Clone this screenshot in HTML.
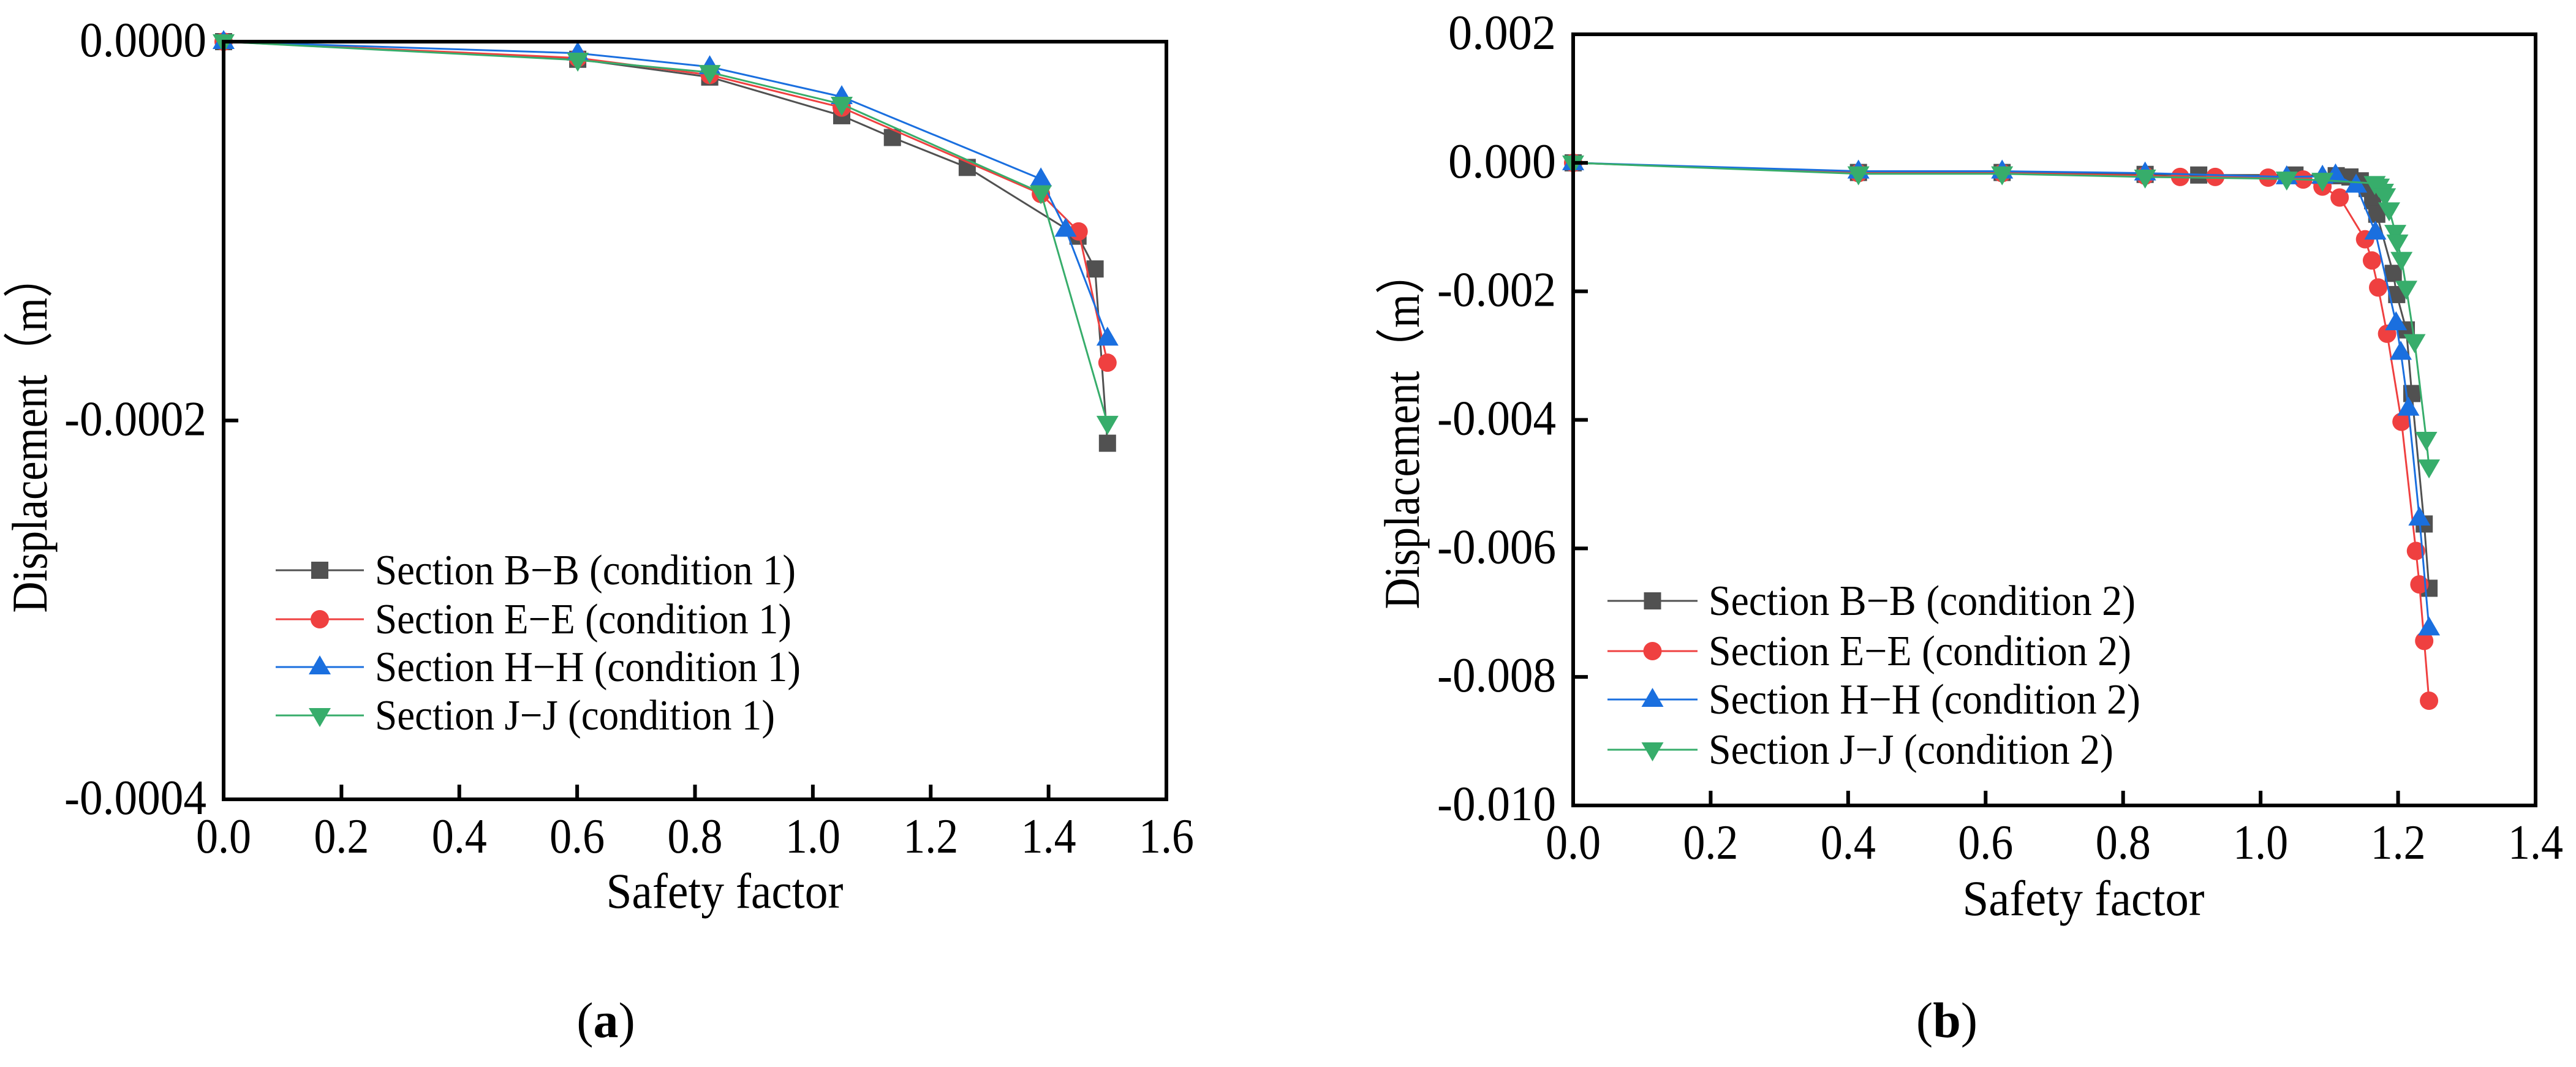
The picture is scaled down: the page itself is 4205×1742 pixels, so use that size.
<!DOCTYPE html>
<html><head><meta charset="utf-8"><style>
html,body{margin:0;padding:0;background:#fff;}
svg{display:block;}
text{font-family:"Liberation Serif","Times New Roman",serif;fill:#000;}
</style></head><body>
<svg id="fig" width="4205" height="1742" viewBox="0 0 4205 1742" xmlns="http://www.w3.org/2000/svg"></svg>
<script>
// ---- Panel (a) data ----
const aSeriesNames = ["Section B\u2212B (condition 1)","Section E\u2212E (condition 1)","Section H\u2212H (condition 1)","Section J\u2212J (condition 1)"];
const aBx = [0,0.601,0.825,1.049,1.135,1.262,1.45,1.479,1.5];
const aBy = [0,-0.0000093,-0.0000187,-0.0000391,-0.0000506,-0.0000664,-0.0001027,-0.00012,-0.000212];
const aEx = [0,0.601,0.825,1.049,1.387,1.451,1.5];
const aEy = [0,-0.0000086,-0.0000176,-0.0000348,-0.0000804,-0.0001002,-0.0001695];
const aHx = [0,0.601,0.825,1.049,1.387,1.429,1.5];
const aHy = [0,-0.0000061,-0.0000133,-0.0000291,-0.0000725,-0.0000991,-0.0001566];
const aJx = [0,0.601,0.825,1.049,1.387,1.5];
const aJy = [0,-0.0000097,-0.0000162,-0.000033,-0.0000797,-0.0002014];
const aXTicks = [0,0.2,0.4,0.6,0.8,1.0,1.2,1.4,1.6];
const aXTickLabels = ["0.0","0.2","0.4","0.6","0.8","1.0","1.2","1.4","1.6"];
const aYTicks = [0,-0.0002,-0.0004];
const aYTickLabels = ["0.0000","-0.0002","-0.0004"];
// ---- Panel (b) data ----
const bSeriesNames = ["Section B\u2212B (condition 2)","Section E\u2212E (condition 2)","Section H\u2212H (condition 2)","Section J\u2212J (condition 2)"];
const bBx = [0,0.415,0.624,0.832,0.91,1.05,1.11,1.13,1.145,1.155,1.163,1.169,1.193,1.198,1.212,1.220,1.238,1.245];
const bBy = [0,-0.00015,-0.00015,-0.00018,-0.00019,-0.00019,-0.0002,-0.00022,-0.00028,-0.0004,-0.00059,-0.0008,-0.00172,-0.00205,-0.0026,-0.00359,-0.00562,-0.00662];
const bEx = [0,0.415,0.624,0.832,0.883,0.934,1.011,1.062,1.09,1.115,1.152,1.162,1.171,1.184,1.205,1.226,1.231,1.238,1.245];
const bEy = [0,-0.00016,-0.00016,-0.0002,-0.00022,-0.00022,-0.00023,-0.00026,-0.00037,-0.00054,-0.00119,-0.00152,-0.00194,-0.00266,-0.00403,-0.00604,-0.00656,-0.00744,-0.00837];
const bHx = [0,0.415,0.624,0.832,1.038,1.09,1.109,1.139,1.167,1.197,1.204,1.215,1.231,1.245];
const bHy = [0,-0.00013,-0.00013,-0.00016,-0.00022,-0.00021,-0.00019,-0.00035,-0.00108,-0.00249,-0.00295,-0.00382,-0.00553,-0.00724];
const bJx = [0,0.415,0.624,0.832,1.038,1.09,1.166,1.172,1.178,1.181,1.187,1.196,1.199,1.205,1.212,1.224,1.241,1.245];
const bJy = [0,-0.00017,-0.00017,-0.00022,-0.00025,-0.00027,-0.00032,-0.00036,-0.00044,-0.00051,-0.00073,-0.00108,-0.00123,-0.0015,-0.00195,-0.00278,-0.0043,-0.00473];
const bXTicks = [0,0.2,0.4,0.6,0.8,1.0,1.2,1.4];
const bXTickLabels = ["0.0","0.2","0.4","0.6","0.8","1.0","1.2","1.4"];
const bYTicks = [0.002,0,-0.002,-0.004,-0.006,-0.008,-0.010];
const bYTickLabels = ["0.002","0.000","-0.002","-0.004","-0.006","-0.008","-0.010"];

const NS = "http://www.w3.org/2000/svg";
const svg = document.getElementById('fig');
const COLORS = ["#515151","#EF4040","#1A6FDF","#37AD6B"];
const SHAPES = ["square","circle","tri-up","tri-down"];
const SERIF = '"Liberation Serif", serif';

function mk(tag, attrs, parent){
  const e = document.createElementNS(NS, tag);
  for (const k in attrs) e.setAttribute(k, attrs[k]);
  (parent||svg).appendChild(e);
  return e;
}
function txt(parent, s, x, y, size, len, anchor, weight){
  const t = mk('text', {x:x, y:y, 'font-size':size, 'text-anchor':anchor||'start', 'font-family':SERIF}, parent);
  if (len) { t.setAttribute('textLength', len); t.setAttribute('lengthAdjust','spacingAndGlyphs'); }
  if (weight) t.setAttribute('font-weight', weight);
  t.textContent = s;
  return t;
}
function marker(g, shape, cx, cy, color){
  let m;
  if (shape==='square') m = mk('rect',{x:cx-14,y:cy-14,width:28,height:28,fill:color},g);
  else if (shape==='circle') m = mk('circle',{cx:cx,cy:cy,r:15,fill:color},g);
  else if (shape==='tri-up') m = mk('polygon',{points:`${cx},${cy-19} ${cx-18},${cy+12} ${cx+18},${cy+12}`,fill:color},g);
  else m = mk('polygon',{points:`${cx},${cy+19} ${cx-18},${cy-12} ${cx+18},${cy-12}`,fill:color},g);
  return m;
}

function panel(cfg){
  const g = mk('g', {});
  
  
  const sx = v => cfg.L + (v - cfg.xmin)/(cfg.xmax-cfg.xmin)*(cfg.R-cfg.L);
  const sy = v => cfg.T + (cfg.ymax - v)/(cfg.ymax-cfg.ymin)*(cfg.B-cfg.T);
  cfg.series.forEach((s, i) => {
    const sg = mk('g', {}, g);
    
    
    const pts = s.x.map((xv, j) => sx(xv).toFixed(1) + ',' + sy(s.y[j]).toFixed(1)).join(' ');
    const pl = mk('polyline', {points:pts, fill:'none', stroke:COLORS[i], 'stroke-width':3, 'stroke-linejoin':'round'}, sg);
    
    
    s.x.forEach((xv, j) => {
      const m = marker(sg, SHAPES[i], sx(xv), sy(s.y[j]), COLORS[i]);
      
      
    });
  });
  const fr = mk('rect', {x:cfg.L, y:cfg.T, width:cfg.R-cfg.L, height:cfg.B-cfg.T, fill:'none', stroke:'#000', 'stroke-width':6}, g);
  
  
  const xg = mk('g', {}, g);
  
  
  cfg.xTicks.forEach((v, i) => {
    const X = sx(v);
    mk('line', {x1:X, y1:cfg.B, x2:X, y2:cfg.B-24, stroke:'#000', 'stroke-width':6}, xg);
    const t = txt(xg, cfg.xTickLabels[i], X, cfg.B+87, 80, 90, 'middle');
    
    
  });
  const yg = mk('g', {}, g);
  
  
  cfg.yTicks.forEach((v, i) => {
    const Y = sy(v);
    mk('line', {x1:cfg.L, y1:Y, x2:cfg.L+24, y2:Y, stroke:'#000', 'stroke-width':6}, yg);
    const lab = cfg.yTickLabels[i];
    const w = cfg.yLabW(lab);
    const t = txt(yg, lab, cfg.L-28, Y+24, 80, w, 'end');
    
    
  });
  const xt = txt(g, 'Safety factor', cfg.xTitleX, cfg.xTitleY, 82, cfg.xTitleW, 'middle');
  
  
  const yt = txt(g, 'Displacement\uFF08m\uFF09', 0, 0, 82, 585, 'middle');
  yt.setAttribute('font-family', '"Liberation Serif","Noto Serif CJK SC",serif');
  yt.setAttribute('transform', `translate(${cfg.yTitleX},${cfg.yTitleY}) rotate(-90)`);
  
  
  const lg = mk('g', {}, g);
  
  
  cfg.series.forEach((s, i) => {
    const Y = cfg.legY[i];
    const eg = mk('g', {}, lg);
    
    
    mk('line', {x1:cfg.legX1, y1:Y, x2:cfg.legX2, y2:Y, stroke:COLORS[i], 'stroke-width':3}, eg);
    marker(eg, SHAPES[i], (cfg.legX1+cfg.legX2)/2, Y, COLORS[i]);
    txt(eg, cfg.names[i], cfg.legX2+18, Y+23, 70, cfg.legW[i], 'start');
  });
  const cap = mk('text', {x:cfg.capX, y:1693, 'font-size':82, 'text-anchor':'middle', 'font-family':SERIF}, g);
  
  
  cap.innerHTML = '(<tspan font-weight="bold">' + cfg.capLetter + '</tspan>)';
}

panel({
  name:'chart-a', L:365, R:1904, T:68, B:1305, xmin:0, xmax:1.6, ymin:-0.0004, ymax:0,
  series:[{key:'b-b',x:aBx,y:aBy},{key:'e-e',x:aEx,y:aEy},{key:'h-h',x:aHx,y:aHy},{key:'j-j',x:aJx,y:aJy}],
  names:aSeriesNames,
  xTicks:aXTicks, xTickLabels:aXTickLabels, yTicks:aYTicks, yTickLabels:aYTickLabels,
  yLabW: l => l.startsWith('-') ? 232 : 207,
  xTitleX:1183, xTitleY:1482, xTitleW:387,
  yTitleX:76, yTitleY:708,
  legX1:450, legX2:594, legY:[931,1011,1089,1168], legW:[687,680,695,653],
  capX:989, capLetter:'a'
});
panel({
  name:'chart-b', L:2568, R:4139, T:56, B:1315, xmin:0, xmax:1.4, ymin:-0.010, ymax:0.002,
  series:[{key:'b-b',x:bBx,y:bBy},{key:'e-e',x:bEx,y:bEy},{key:'h-h',x:bHx,y:bHy},{key:'j-j',x:bJx,y:bJy}],
  names:bSeriesNames,
  xTicks:bXTicks, xTickLabels:bXTickLabels, yTicks:bYTicks, yTickLabels:bYTickLabels,
  yLabW: l => l.startsWith('-') ? 194 : 176,
  xTitleX:3401, xTitleY:1494, xTitleW:395,
  yTitleX:2316, yTitleY:702,
  legX1:2624, legX2:2771, legY:[981,1063,1142,1224], legW:[697,690,705,661],
  capX:3178, capLetter:'b'
});
</script>
</body></html>
